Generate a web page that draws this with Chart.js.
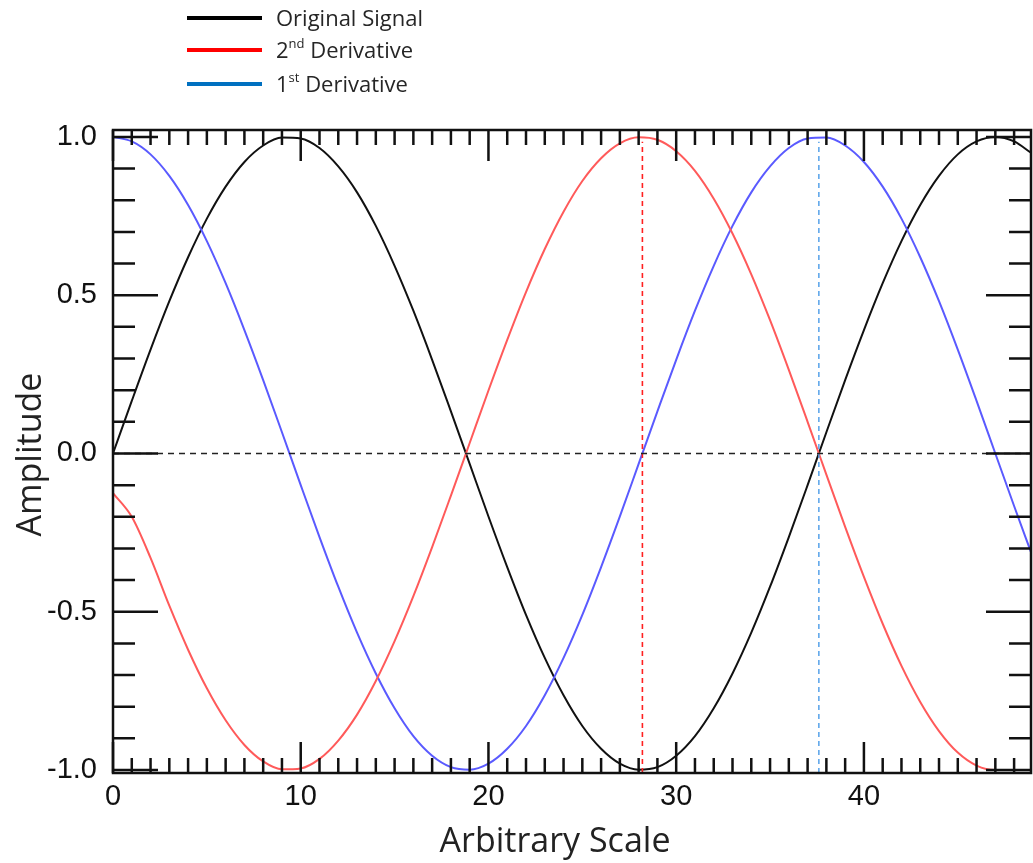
<!DOCTYPE html>
<html><head><meta charset="utf-8">
<script src="https://cdn.jsdelivr.net/npm/chart.js@4.4.1/dist/chart.umd.min.js"></script>
<style>
html,body{margin:0;padding:0;background:#fff;}
#wrap{position:relative;width:1033px;height:863px;overflow:hidden;}
#c{position:absolute;left:0;top:0;}
.leg{position:absolute;left:187px;height:24px;font-family:"Open Sans",sans-serif;font-size:22px;color:#262626;}
.leg .ln{position:absolute;left:0;top:10px;width:75px;height:4px;}
.leg .tx{position:absolute;left:89px;top:-4px;white-space:nowrap;line-height:30px;}
.leg sup{font-size:13px;vertical-align:top;position:relative;top:-6px;}
</style></head>
<body>
<div id="wrap">
<canvas id="c" width="1033" height="863"></canvas>
<div class="leg" style="top:6px"><div class="ln" style="background:#000"></div><div class="tx">Original Signal</div></div>
<div class="leg" style="top:38px"><div class="ln" style="background:#ff0000"></div><div class="tx">2<sup>nd</sup> Derivative</div></div>
<div class="leg" style="top:72px"><div class="ln" style="background:#0070c0"></div><div class="tx">1<sup>st</sup> Derivative</div></div>
</div>
<script>
const xValues = [0,1,2,3,4,5,6,7,8,9,10,11,12,13,14,15,16,17,18,19,20,21,22,23,24,25,26,27,28,29,30,31,32,33,34,35,36,37,38,39,40,41,42,43,44,45,46,47,48,48.9];
const originalSignal = [0,.166,.328,.481,.620,.742,.843,.921,.973,.998,.995,.965,.907,.825,.719,.593,.451,.296,.133,-.033,-.199,-.359,-.510,-.646,-.764,-.861,-.933,-.980,-.999,-.991,-.955,-.893,-.805,-.695,-.566,-.421,-.264,-.100,.067,.232,.390,.538,.671,.785,.877,.945,.986,1.0,.986,.950];
const firstDerivative = [1.0,.986,.945,.877,.785,.671,.538,.390,.232,.067,-.100,-.264,-.421,-.566,-.695,-.805,-.893,-.955,-.991,-.999,-.980,-.933,-.861,-.764,-.646,-.510,-.359,-.199,-.033,.133,.296,.451,.593,.719,.825,.907,.965,.995,.998,.973,.921,.843,.742,.620,.481,.328,.166,0,-.166,-.312];
const secondDerivative = [-.125,-.200,-.330,-.481,-.620,-.742,-.843,-.921,-.973,-.998,-.995,-.965,-.907,-.825,-.719,-.593,-.451,-.296,-.133,.033,.199,.359,.510,.646,.764,.861,.933,.980,.999,.991,.955,.893,.805,.695,.566,.421,.264,.100,-.067,-.232,-.390,-.538,-.671,-.785,-.877,-.945,-.986,-1.0,-1.0,-1.0];

const zeroLineX = [0, 48.9];
const zeroLineY = [0, 0];
const secondPeakX = 28.2;
const firstPeakX = 37.6;
const markerY = [-1.0095, 0.985];

const xMajorTicks = [0,10,20,30,40];
const xMinorTicks = [1,2,3,4,5,6,7,8,9,11,12,13,14,15,16,17,18,19,21,22,23,24,25,26,27,28,29,31,32,33,34,35,36,37,38,39,41,42,43,44,45,46,47,48];
const yMajorTicks = [-1.0,-0.5,0.0,0.5,1.0];
const yTickLabels = ["-1.0","-0.5","0.0","0.5","1.0"];
const yMinorTicks = [-0.9,-0.8,-0.7,-0.6,-0.4,-0.3,-0.2,-0.1,0.1,0.2,0.3,0.4,0.6,0.7,0.8,0.9];
const xTitle = 'Arbitrary Scale';
const yTitle = 'Amplitude';

const pts = (xs, ys) => xs.map((x, i) => ({x: x, y: ys[i]}));

const frameTicks = {
  id: 'frameTicks',
  afterDatasetsDraw(chart) {
    const {ctx, chartArea: a, scales: {x, y}} = chart;
    ctx.save();
    ctx.strokeStyle = '#111';
    ctx.lineWidth = 2.5;
    ctx.lineCap = 'butt';
    ctx.beginPath();
    const xt = (v, len) => {
      const p = x.getPixelForValue(v);
      ctx.moveTo(p, a.bottom); ctx.lineTo(p, a.bottom - len);
      ctx.moveTo(p, a.top); ctx.lineTo(p, a.top + len);
    };
    const yt = (v, len) => {
      const p = y.getPixelForValue(v);
      ctx.moveTo(a.left, p); ctx.lineTo(a.left + len, p);
      ctx.moveTo(a.right, p); ctx.lineTo(a.right - len, p);
    };
    xMinorTicks.forEach(v => xt(v, 15));
    xMajorTicks.forEach(v => xt(v, 31));
    yMinorTicks.forEach(v => yt(v, 22));
    yMajorTicks.forEach(v => yt(v, 45));
    ctx.stroke();
    ctx.strokeRect(a.left, a.top, a.right - a.left, a.bottom - a.top);
    // axis titles
    ctx.fillStyle = '#222';
    ctx.font = '34px "Open Sans", sans-serif';
    ctx.textAlign = 'center';
    ctx.textBaseline = 'middle';
    ctx.fillText(xTitle, a.left + 442, a.bottom + 69);
    ctx.translate(31, (a.top + a.bottom) / 2 + 3);
    ctx.rotate(-Math.PI / 2);
    ctx.fillText(yTitle, 0, 0);
    ctx.restore();
  }
};

new Chart(document.getElementById('c'), {
  type: 'line',
  data: {
    datasets: [
      {label: 'zero', data: pts(zeroLineX, zeroLineY), borderColor: '#222', borderWidth: 1.6, borderDash: [6, 5], pointRadius: 0},
      {label: '2nd peak', data: pts([secondPeakX, secondPeakX], markerY), borderColor: '#ff2020', borderWidth: 1.6, borderDash: [5, 4], pointRadius: 0},
      {label: '1st peak', data: pts([firstPeakX, firstPeakX], markerY), borderColor: '#4a9be8', borderWidth: 1.4, borderDash: [5, 4], pointRadius: 0},
      {label: '2nd Derivative', data: pts(xValues, secondDerivative), borderColor: '#ff5a5a', borderWidth: 2, pointRadius: 0, cubicInterpolationMode: 'monotone'},
      {label: '1st Derivative', data: pts(xValues, firstDerivative), borderColor: '#5a5aff', borderWidth: 2, pointRadius: 0, cubicInterpolationMode: 'monotone'},
      {label: 'Original Signal', data: pts(xValues, originalSignal), borderColor: '#111', borderWidth: 2, pointRadius: 0, cubicInterpolationMode: 'monotone'}
    ]
  },
  options: {
    responsive: false,
    animation: false,
    events: [],
    layout: {padding: {top: 130, right: 2, left: 0, bottom: 0}},
    plugins: {legend: {display: false}, tooltip: {enabled: false}},
    scales: {
      x: {
        type: 'linear', min: 0, max: 48.9,
        grid: {display: false, drawTicks: false},
        border: {display: false},
        afterBuildTicks: s => { s.ticks = xMajorTicks.map(v => ({value: v})); },
        afterFit: s => { s.height = 90; },
        ticks: {color: '#111', padding: 7, maxRotation: 0, autoSkip: false,
          font: {family: '"Liberation Sans", Arial, sans-serif', size: 29},
          callback: v => String(v)},
        title: {display: false}
      },
      y: {
        type: 'linear', min: -1.0095, max: 1.022,
        grid: {display: false, drawTicks: false},
        border: {display: false},
        afterBuildTicks: s => { s.ticks = yMajorTicks.map(v => ({value: v})); },
        afterFit: s => { s.width = 113; },
        ticks: {color: '#111', padding: 16, autoSkip: false,
          font: {family: '"Liberation Sans", Arial, sans-serif', size: 29},
          callback: v => yTickLabels[yMajorTicks.indexOf(v)] ?? ''},
        title: {display: false}
      }
    }
  },
  plugins: [frameTicks]
});
</script>
</body></html>
